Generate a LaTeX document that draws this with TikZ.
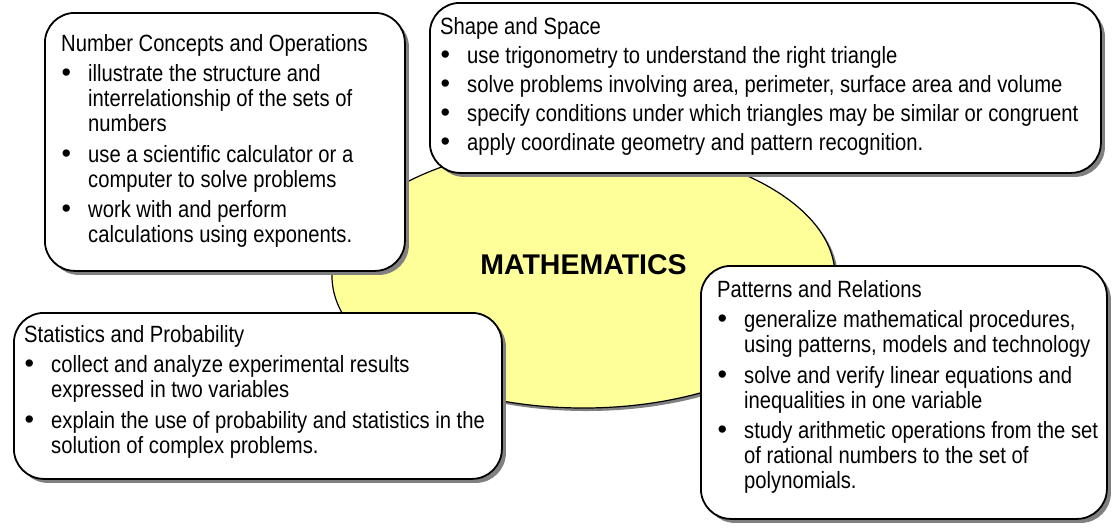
\documentclass[tikz,border=0pt]{standalone}
\usepackage{fontspec}
\setmainfont{Liberation Sans}[FakeStretch=0.86]
\newfontfamily\hubfont{Liberation Sans}
\usetikzlibrary{shapes.geometric,shadows}

\definecolor{hubyellow}{HTML}{FFFF99}
\definecolor{shadowgrey}{HTML}{808080}

\newcommand{\topicitem}[1]{\par\hangindent=27pt\hangafter=1\noindent\makebox[27pt][l]{\hspace{0.5pt}{\hubfont\fontsize{27}{25}\selectfont\textbullet}}#1}
\newcommand{\topicblock}[3][5.5pt]{\parbox[t]{#2}{\fontsize{23.5}{25}\selectfont\setlength{\parskip}{#1}\noindent #3}}

\begin{document}
\begin{tikzpicture}[x=1pt, y=-1pt,
    topicbox/.style={draw=black, line width=1.8pt, fill=white, rounded corners=30pt,
        anchor=north west, inner sep=0pt,
        drop shadow={shadow xshift=4pt, shadow yshift=-4pt, fill=shadowgrey, opacity=1}},
    topictext/.style={anchor=base west, inner sep=0pt}]
    \useasboundingbox (0,0) rectangle (1115,531);

    \node[ellipse, draw=black, line width=1.2pt, fill=hubyellow, minimum width=503, minimum height=264,
        drop shadow={shadow xshift=3pt, shadow yshift=-3pt, fill=shadowgrey, opacity=1}] (hub) at (583.5,276) {};
    \node (hublabel) at (583.5,265) {\hubfont\bfseries\fontsize{28.5}{30}\selectfont MATHEMATICS};

    \node[topicbox, minimum width=360, minimum height=258] (numbers) at (44,12) {};
    \node[topictext] (numberstext) at (61,51) {\topicblock{335pt}{Number Concepts and Operations
        \topicitem{illustrate the structure and\\interrelationship of the sets of\\numbers}
        \topicitem{use a scientific calculator or a\\computer to solve problems}
        \topicitem{work with and perform\\calculations using exponents.}}};

    \node[topicbox, minimum width=671, minimum height=170] (shape) at (429,2) {};
    \node[topictext] (shapetext) at (440,34) {\topicblock[4pt]{650pt}{Shape and Space
        \topicitem{use trigonometry to understand the right triangle}
        \topicitem{solve problems involving area, perimeter, surface area and volume}
        \topicitem{specify conditions under which triangles may be similar or congruent}
        \topicitem{apply coordinate geometry and pattern recognition.}}};

    \node[topicbox, minimum width=488, minimum height=166] (stats) at (13,312) {};
    \node[topictext] (statstext) at (24,342) {\topicblock{470pt}{Statistics and Probability
        \topicitem{collect and analyze experimental results\\expressed in two variables}
        \topicitem{explain the use of probability and statistics in the\\solution of complex problems.}}};

    \node[topicbox, minimum width=406, minimum height=253] (patterns) at (700,265) {};
    \node[topictext] (patternstext) at (717,297) {\topicblock{385pt}{Patterns and Relations
        \topicitem{generalize mathematical procedures,\\using patterns, models and technology}
        \topicitem{solve and verify linear equations and\\inequalities in one variable}
        \topicitem{study arithmetic operations from the set\\of rational numbers to the set of\\polynomials.}}};
\end{tikzpicture}
\end{document}
